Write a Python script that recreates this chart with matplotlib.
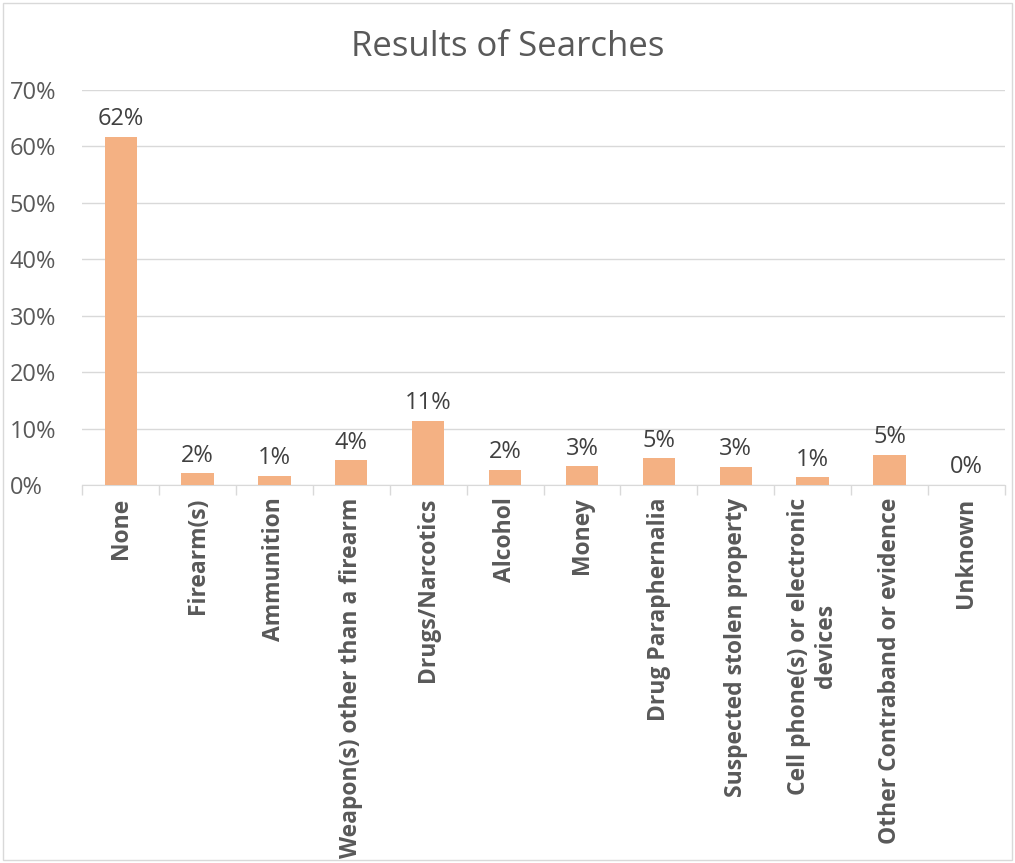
import matplotlib
matplotlib.use('Agg')
import matplotlib.pyplot as plt
from matplotlib.ticker import FuncFormatter, FixedLocator
import numpy as np

categories = ['None', 'Firearm(s)', 'Ammunition', 'Weapon(s) other than a firearm',
              'Drugs/Narcotics', 'Alcohol', 'Money', 'Drug Paraphernalia',
              'Suspected stolen property', 'Cell phone(s) or electronic\ndevices',
              'Other Contraband or evidence', 'Unknown']
values = [0.617, 0.021, 0.016, 0.044, 0.114, 0.027, 0.033, 0.047, 0.032, 0.014, 0.054, 0.0]
labels = ['62%', '2%', '1%', '4%', '11%', '2%', '3%', '5%', '3%', '1%', '5%', '0%']

plt.rcParams['font.family'] = ['Open Sans', 'DejaVu Sans']
txt = '#595959'
grid = '#D9D9D9'

fig = plt.figure(figsize=(10.15, 8.63), dpi=100)
ax = fig.add_axes([0.081, 0.438, 0.909, 0.458])

x = np.arange(len(categories))
ax.bar(x, values, width=0.42, color='#F4B183', zorder=3)
for xi, v, lab in zip(x, values, labels):
    ax.annotate(lab, (xi, v), xytext=(0, 4), textcoords='offset points',
                ha='center', va='bottom', fontsize=17, color='#404040')

ax.set_xlim(-0.5, len(categories) - 0.5)
ax.set_ylim(0, 0.7)
ax.set_yticks(np.arange(0, 0.71, 0.1))
ax.yaxis.set_major_formatter(FuncFormatter(lambda v, p: f'{v*100:.0f}%'))
ax.grid(axis='y', color=grid, linewidth=1, zorder=0)
ax.tick_params(axis='y', length=0, labelsize=17, labelcolor=txt, pad=52)
for lab in ax.get_yticklabels():
    lab.set_horizontalalignment('left')

ax.set_xticks(x)
ax.set_xticklabels(categories, rotation=90, fontsize=16.5, fontweight='bold', color=txt)
ax.tick_params(axis='x', which='major', length=0, pad=9)
ax.xaxis.set_minor_locator(FixedLocator(np.arange(-0.5, len(categories), 1)))
ax.tick_params(axis='x', which='minor', length=7, color=grid, width=1)

for s in ['top', 'right', 'left']:
    ax.spines[s].set_visible(False)
ax.spines['bottom'].set_color(grid)

fig.text(0.5, 0.945, 'Results of Searches', ha='center', va='center', fontsize=25, color=txt)

fig.patches.append(plt.Rectangle((0.003, 0.003), 0.994, 0.994, transform=fig.transFigure,
                                 fill=False, edgecolor=grid, linewidth=1))

fig.savefig('out.png', dpi=100)
